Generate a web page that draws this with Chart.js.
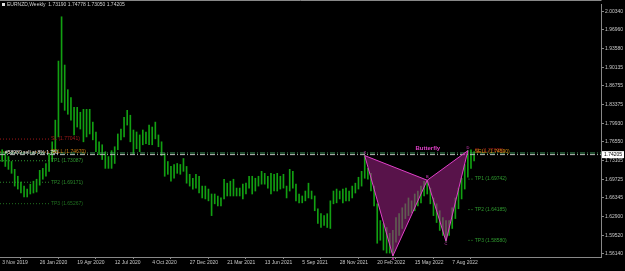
<!DOCTYPE html>
<html>
<head>
<meta charset="utf-8">
<script src="https://cdn.jsdelivr.net/npm/chart.js@4.4.0/dist/chart.umd.min.js"></script>
<style>
html, body { margin: 0; padding: 0; background: #000; }
canvas { display: block; }
</style>
</head>
<body>
<canvas id="myChart1" width="625" height="271"></canvas>
<script>
const dates = ['3 Nov 2019', '26 Jan 2020', '19 Apr 2020', '12 Jul 2020', '4 Oct 2020', '27 Dec 2020',
  '21 Mar 2021', '13 Jun 2021', '5 Sep 2021', '28 Nov 2021', '20 Feb 2022', '15 May 2022', '7 Aug 2022'];

const priceTicks = [2.00340, 1.96960, 1.93580, 1.90135, 1.86755, 1.83375, 1.79930,
  1.76550, 1.73105, 1.69725, 1.66345, 1.62900, 1.59520, 1.56140];

// weekly highs / lows
const highs = [
  1.7510, 1.7474, 1.7385, 1.7295, 1.7152, 1.7026, 1.6918, 1.6847, 1.6793, 1.6882,
  1.6936, 1.6972, 1.7134, 1.7170, 1.7259, 1.7439, 1.7654, 1.8049, 1.9125, 1.9932,
  1.9053, 1.8604, 1.8461, 1.8282, 1.8282, 1.8192, 1.8246, 1.8246, 1.8246, 1.8013,
  1.7833, 1.7654, 1.7600, 1.7474, 1.7385, 1.7492, 1.7564, 1.7797, 1.7887, 1.8102,
  1.8228, 1.8138, 1.7869, 1.7833, 1.7779, 1.7869, 1.7833, 1.7959, 1.7923, 1.8013,
  1.7779, 1.7654, 1.7439, 1.7295, 1.7205, 1.7241, 1.7259, 1.7241, 1.7349, 1.7205,
  1.7062, 1.6990, 1.7062, 1.7026, 1.6847, 1.6847, 1.6793, 1.6703, 1.6703, 1.6667,
  1.6631, 1.6972, 1.6900, 1.6936, 1.6972, 1.6811, 1.6811, 1.6882, 1.6900, 1.7026,
  1.7026, 1.6990, 1.7026, 1.7116, 1.7080, 1.7026, 1.7080, 1.7062, 1.7080, 1.7026,
  1.7062, 1.6847, 1.7152, 1.7116, 1.6882, 1.6703, 1.6667, 1.6757, 1.6900, 1.6757,
  1.6667, 1.6434, 1.6344, 1.6309, 1.6344, 1.6578, 1.6757, 1.6793, 1.6757, 1.6793,
  1.6811, 1.6757, 1.6847, 1.6900, 1.7008, 1.7116, 1.7403, 1.7170, 1.7080, 1.6847,
  1.6524, 1.6219, 1.6165, 1.6093, 1.5986, 1.6039, 1.6273, 1.6344, 1.6452, 1.6524,
  1.6631, 1.6578, 1.6703, 1.6757, 1.6847, 1.6936, 1.6954, 1.6811, 1.6631, 1.6524,
  1.6398, 1.6273, 1.6219, 1.6219, 1.6452, 1.6631, 1.6811, 1.6990, 1.7241, 1.7492,
  1.7510, 1.74778
];
const lows = [
  1.7295, 1.7205, 1.7152, 1.7080, 1.6847, 1.6793, 1.6721, 1.6649, 1.6649, 1.6703,
  1.6721, 1.6739, 1.6864, 1.6972, 1.7026, 1.7116, 1.7295, 1.7474, 1.7743, 1.8371,
  1.8228, 1.8156, 1.8049, 1.7779, 1.7923, 1.7887, 1.7654, 1.7743, 1.7797, 1.7690,
  1.7474, 1.7421, 1.7331, 1.7170, 1.7170, 1.7170, 1.7259, 1.7510, 1.7690, 1.7743,
  1.7959, 1.7654, 1.7439, 1.7528, 1.7474, 1.7600, 1.7618, 1.7600, 1.7600, 1.7708,
  1.7564, 1.7403, 1.7026, 1.7062, 1.6936, 1.6990, 1.7080, 1.7062, 1.7116, 1.6900,
  1.6847, 1.6793, 1.6811, 1.6721, 1.6631, 1.6613, 1.6578, 1.6309, 1.6524, 1.6488,
  1.6488, 1.6613, 1.6667, 1.6667, 1.6667, 1.6667, 1.6667, 1.6613, 1.6703, 1.6811,
  1.6703, 1.6757, 1.6847, 1.6882, 1.6882, 1.6811, 1.6703, 1.6757, 1.6757, 1.6793,
  1.6811, 1.6631, 1.6757, 1.6811, 1.6578, 1.6542, 1.6542, 1.6578, 1.6631, 1.6613,
  1.6398, 1.6165, 1.6093, 1.6129, 1.6093, 1.6075, 1.6524, 1.6542, 1.6613, 1.6542,
  1.6578, 1.6578, 1.6631, 1.6721, 1.6793, 1.6847, 1.6990, 1.6972, 1.6757, 1.6488,
  1.5806, 1.5860, 1.5681, 1.5627, 1.5627, 1.5573, 1.5824, 1.5950, 1.6075, 1.6255,
  1.6309, 1.6362, 1.6398, 1.6488, 1.6542, 1.6667, 1.6703, 1.6524, 1.6309, 1.6183,
  1.6039, 1.5950, 1.5842, 1.5950, 1.6075, 1.6255, 1.6434, 1.6613, 1.6793, 1.7008,
  1.7170, 1.73050
];

const lastPrice = 1.74205;
const entryPrice = 1.7450;

// butterfly pattern X A B C D
const patternIdx = [116, 125, 136, 142, 149];
const patternPrice = [1.7403, 1.5573, 1.6954, 1.5842, 1.7492];
const patternNames = ['X', 'A', 'B', 'C', 'D'];

// older levels on the left
const oldLevels = [1.77041, 1.74670, 1.73087, 1.69171, 1.65267];
const oldNames = ['SL (1.77041)', 'SELL (1.74670)', 'TP1 (1.73087)', 'TP2 (1.69171)', 'TP3 (1.65267)'];
const oldColors = ['#a01818', '#c87a10', '#2f9a2f', '#2a882a', '#1f6f1f'];

// levels of the new pattern
const newLevels = [1.69742, 1.64185, 1.58580];
const newNames = ['TP1 (1.69742)', 'TP2 (1.64185)', 'TP3 (1.58580)'];

const xMin = -0.7, xMax = 191.6;

const bars = highs.map((h, i) => ({ x: i, y: [lows[i], h] }));
const pt = k => ({ x: patternIdx[k], y: patternPrice[k] });

const hLine = (y, x0, x1, color, dash) => ({
  type: 'line',
  data: [{ x: x0, y: y }, { x: x1, y: y }],
  borderColor: color,
  borderWidth: 1,
  borderDash: dash,
  pointRadius: 0,
  fill: false,
  order: 2,
});

const datasets = [
  {
    type: 'bar',
    data: bars,
    backgroundColor: '#12a012',
    barThickness: 1,
    grouped: false,
    order: 5,
  },
  {
    type: 'line',
    data: [pt(0), pt(1), pt(2), pt(0)],
    fill: 'shape',
    backgroundColor: 'rgba(160,35,135,0.55)',
    borderColor: '#e040c8',
    borderWidth: 1,
    pointRadius: 0,
    tension: 0,
    order: 1,
  },
  {
    type: 'line',
    data: [pt(2), pt(3), pt(4), pt(2)],
    fill: 'shape',
    backgroundColor: 'rgba(160,35,135,0.55)',
    borderColor: '#e040c8',
    borderWidth: 1,
    pointRadius: 0,
    tension: 0,
    order: 1,
  },
  hLine(entryPrice, xMin, xMax, '#3f9a5a', [5, 2, 1, 2]),
  hLine(lastPrice, xMin, xMax, '#b8b8b8', [5, 2, 1, 2]),
];
oldLevels.forEach((v, k) => datasets.push(hLine(v, xMin, 15.3, oldColors[k], [1, 2])));
newLevels.forEach(v => datasets.push(hLine(v, 149.2, 150.6, '#2f9a2f', [1, 2])));

const FONT = '"Liberation Sans", Arial, sans-serif';

const textPlugin = {
  id: 'texts',
  afterDraw(chart) {
    const ctx = chart.ctx;
    const xs = chart.scales.x, ys = chart.scales.y;
    const area = chart.chartArea;
    ctx.save();
    // top frame
    ctx.strokeStyle = '#888';
    ctx.lineWidth = 1;
    ctx.beginPath();
    ctx.moveTo(area.left, 0.5);
    ctx.lineTo(area.right + 0.5, 0.5);
    ctx.stroke();

    ctx.textBaseline = 'middle';
    ctx.textAlign = 'left';
    // title
    ctx.fillStyle = '#e0e0e0';
    ctx.fillRect(2, 3, 3, 3);
    ctx.font = '5px ' + FONT;
    ctx.fillStyle = '#d0d0d0';
    ctx.fillText('EURNZD,Weekly  1.73190 1.74778 1.73050 1.74205', 7, 5);

    // left level labels
    const lx = xs.getPixelForValue(15.6);
    oldLevels.forEach((v, k) => {
      ctx.fillStyle = oldColors[k];
      ctx.fillText(oldNames[k], lx, ys.getPixelForValue(v));
    });
    ctx.fillStyle = '#e8e8e8';
    ctx.fillText('#58989 sell at 8% 1.751', 5, ys.getPixelForValue(1.7465));

    // right level labels
    const rx = xs.getPixelForValue(151.2);
    ctx.fillStyle = '#a01818';
    ctx.fillText('SL (1.77095)', rx, ys.getPixelForValue(1.7490));
    ctx.fillStyle = '#d08a10';
    ctx.fillText('SELL (1.74590)', rx, ys.getPixelForValue(1.7470));
    newLevels.forEach((v, k) => {
      ctx.fillStyle = '#2f9a2f';
      ctx.fillText(newNames[k], rx, ys.getPixelForValue(v));
    });

    // pattern name and point letters
    ctx.fillStyle = '#e040c8';
    ctx.font = 'bold 6px ' + FONT;
    ctx.textAlign = 'center';
    ctx.fillText('Butterfly', xs.getPixelForValue(136.2), ys.getPixelForValue(1.7530));
    ctx.font = '4px ' + FONT;
    patternNames.forEach((n, k) => {
      const up = k % 2 === 0;
      ctx.fillText(n, xs.getPixelForValue(patternIdx[k]),
        ys.getPixelForValue(patternPrice[k]) + (up ? -3 : 3));
    });

    // last price box
    const py = ys.getPixelForValue(lastPrice);
    ctx.fillStyle = '#ffffff';
    ctx.fillRect(area.right + 1, py - 3.5, 22, 7);
    ctx.fillStyle = '#000000';
    ctx.font = '5px ' + FONT;
    ctx.textAlign = 'left';
    ctx.fillText(lastPrice.toFixed(5), area.right + 3, py);
    ctx.restore();
  },
};

const ctx = document.getElementById('myChart1').getContext('2d');

const config = {
  type: 'bar',
  data: { datasets },
  options: {
    responsive: false,
    animation: false,
    devicePixelRatio: 1,
    layout: { padding: 0 },
    plugins: { legend: { display: false }, tooltip: { enabled: false } },
    scales: {
      x: {
        type: 'linear',
        position: 'bottom',
        min: xMin,
        max: xMax,
        offset: false,
        grid: { drawOnChartArea: false, drawTicks: true, tickLength: 2, color: '#888' },
        border: { display: true, color: '#888' },
        afterBuildTicks: s => { s.ticks = dates.map((d, k) => ({ value: k * 12 })); },
        afterFit: s => { s.height = 14; },
        ticks: {
          autoSkip: false,
          maxRotation: 0,
          minRotation: 0,
          align: 'start',
          padding: 1,
          color: '#c8c8c8',
          font: { size: 5, family: FONT },
          callback: v => dates[Math.round(v / 12)],
        },
      },
      y: {
        type: 'linear',
        position: 'right',
        min: 1.5555,
        max: 2.0165,
        grid: { drawOnChartArea: false, drawTicks: true, tickLength: 3, color: '#888' },
        border: { display: true, color: '#888' },
        afterBuildTicks: s => { s.ticks = priceTicks.map(v => ({ value: v })); },
        afterFit: s => { s.width = 24; },
        ticks: {
          padding: 1,
          color: '#c8c8c8',
          font: { size: 5, family: FONT },
          callback: v => v.toFixed(5),
        },
      },
    },
  },
  plugins: [textPlugin],
};

const myChart = new Chart(ctx, config);
</script>
</body>
</html>
